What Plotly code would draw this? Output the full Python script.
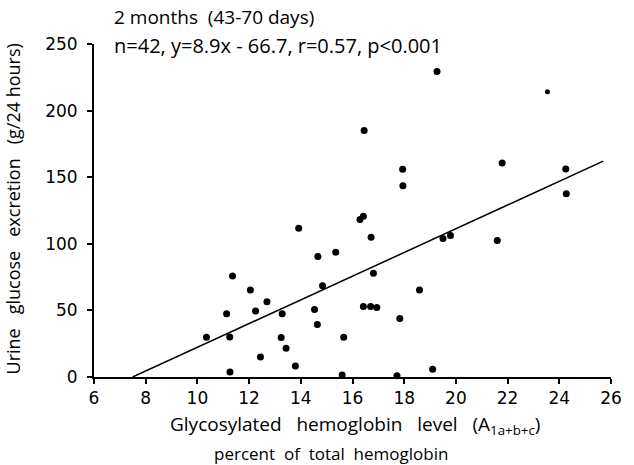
import plotly.graph_objects as go

# Glycosylated hemoglobin (%) vs urine glucose excretion (g/24 h)
hba1 = [13.92, 14.66, 11.36, 12.05, 12.69, 11.13, 12.25, 13.28, 14.53, 14.64,
        10.35, 11.25, 13.24, 13.43, 12.44, 13.79, 11.26,
        19.27, 16.45, 21.79, 24.25, 17.94, 17.95, 24.27, 16.42, 16.29,
        16.72, 19.50, 19.79, 21.60, 15.35, 14.84, 16.81, 18.59, 16.42,
        16.70, 16.94, 17.83, 15.66, 19.10, 15.60, 17.72]
glucose = [111.7, 90.4, 75.8, 65.3, 56.5, 47.4, 49.5, 47.4, 50.7, 39.4,
           29.9, 30.1, 29.6, 21.6, 15.1, 8.3, 3.8,
           229.4, 185.0, 160.6, 156.1, 155.9, 143.6, 137.6, 120.7, 118.2,
           104.9, 103.9, 106.2, 102.4, 93.6, 68.5, 77.8, 65.3, 52.9,
           52.9, 52.2, 43.9, 29.9, 5.8, 1.5, 1.0]
small_x = [23.54]
small_y = [214.1]

slope = 8.9
intercept = -66.7
line_x = [-intercept / slope, 25.7]
line_y = [slope * v + intercept for v in line_x]

x_ticks = [6, 8, 10, 12, 14, 16, 18, 20, 22, 24, 26]
y_ticks = [0, 50, 100, 150, 200, 250]

FONT = "Open Sans"
TICKFONT = "DejaVu Sans"

fig = go.Figure()
fig.add_trace(go.Scatter(x=line_x, y=line_y, mode="lines",
                         line=dict(color="black", width=1.5), hoverinfo="skip"))
fig.add_trace(go.Scatter(x=hba1, y=glucose, mode="markers",
                         marker=dict(color="black", size=7), cliponaxis=False))
fig.add_trace(go.Scatter(x=small_x, y=small_y, mode="markers",
                         marker=dict(color="black", size=5), cliponaxis=False))

fig.update_layout(
    width=634, height=465,
    margin=dict(l=94, r=20, t=44, b=88),
    paper_bgcolor="white", plot_bgcolor="white",
    showlegend=False,
    font=dict(family=FONT, color="black", size=17),
    xaxis=dict(range=[6, 26], tickvals=x_ticks, ticktext=[str(v) for v in x_ticks],
               showgrid=False, zeroline=False, showline=True, linecolor="black",
               linewidth=2, ticks="outside", ticklen=5, tickwidth=1.5,
               tickcolor="black", tickfont=dict(size=17, family=TICKFONT)),
    yaxis=dict(range=[0, 250], tickvals=y_ticks, ticktext=[str(v) for v in y_ticks],
               showgrid=False, zeroline=False, showline=True, linecolor="black",
               linewidth=2, ticks="outside", ticklen=5, tickwidth=1.5,
               tickcolor="black", ticklabelstandoff=6,
               tickfont=dict(size=17, family=TICKFONT)),
)

annots = [
    dict(text="2 months  (43-70 days)", x=112, y=17, size=19),
    dict(text="n=42, y=8.9x - 66.7, r=0.57, p<0.001", x=112, y=45, size=20),
]
for a in annots:
    fig.add_annotation(text=a["text"], xref="paper", yref="paper",
                       x=(a["x"] - 94) / 520, y=1 - (a["y"] - 44) / 333,
                       xanchor="left", yanchor="middle", showarrow=False,
                       font=dict(size=a["size"], family=FONT))

fig.add_annotation(text="Glycosylated   hemoglobin   level   (A<sub>1a+b+c</sub>)",
                   xref="paper", yref="paper", x=(357 - 94) / 520,
                   y=1 - (425 - 44) / 333, xanchor="center", yanchor="middle",
                   showarrow=False, font=dict(size=19, family=FONT))
fig.add_annotation(text="percent  of  total  hemoglobin",
                   xref="paper", yref="paper", x=(332 - 94) / 520,
                   y=1 - (453 - 44) / 333, xanchor="center", yanchor="middle",
                   showarrow=False, font=dict(size=17, family=FONT))
fig.add_annotation(text="Urine   glucose   excretion   (g/24 hours)",
                   xref="paper", yref="paper", x=(13 - 94) / 520,
                   y=1 - (209 - 44) / 333, xanchor="center", yanchor="middle",
                   textangle=-90, showarrow=False, font=dict(size=18, family=FONT))

fig.write_html("out.html")
